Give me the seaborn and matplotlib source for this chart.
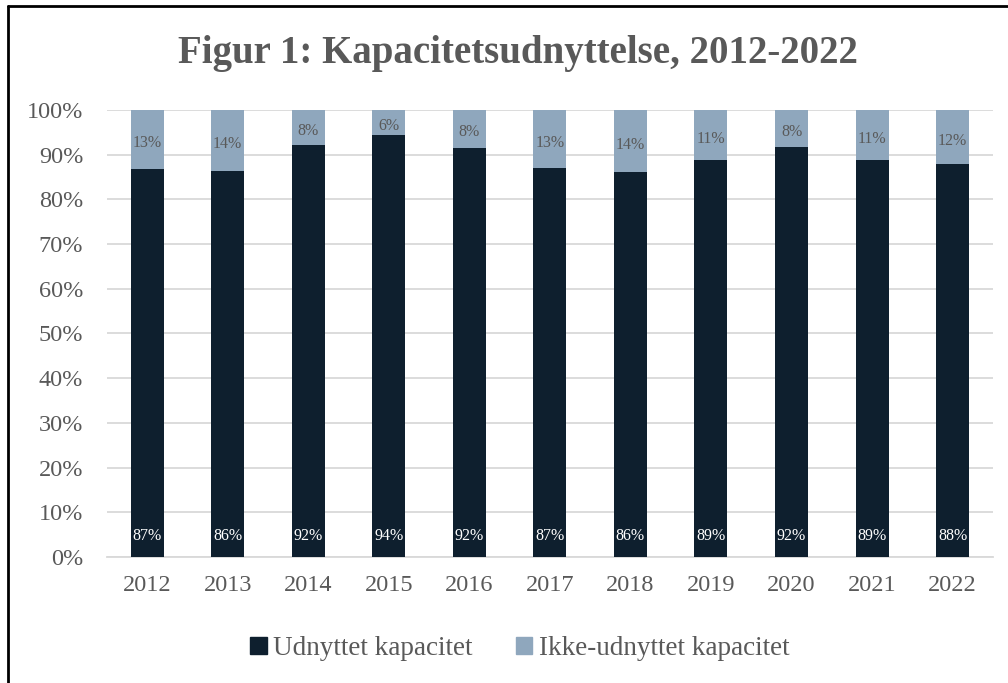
import numpy as np
import pandas as pd
import matplotlib.pyplot as plt
import seaborn as sns
from matplotlib.lines import Line2D
from matplotlib.patches import Patch
from matplotlib.ticker import PercentFormatter

##### data #####
years = ['2012', '2013', '2014', '2015', '2016', '2017', '2018', '2019', '2020', '2021', '2022']
used = [86.8, 86.4, 92.2, 94.4, 91.6, 87.0, 86.1, 88.8, 91.7, 88.8, 87.9]
unused = [13.2, 13.6, 7.8, 5.6, 8.4, 13.0, 13.9, 11.2, 8.3, 11.2, 12.1]
series_names = ['Udnyttet kapacitet', 'Ikke-udnyttet kapacitet']
title = 'Figur 1: Kapacitetsudnyttelse, 2012-2022'

##### style #####
dark = '#0E1F2E'
light = '#8FA7BD'
text_col = '#595959'
grid_col = '#D9D9D9'

sns.set_style('white')
plt.rcParams['font.family'] = ['Liberation Serif', 'DejaVu Serif']

df = pd.DataFrame({'Year': years, 'Used': used, 'Total': np.add(used, unused)})

fig = plt.figure(figsize=(10.08, 6.83), dpi=100)
ax = fig.add_axes([0.106, 0.1845, 0.879, 0.6545])

# stacked bars: total (light) behind, used (dark) in front
sns.barplot(data=df, x='Year', y='Total', color=light, width=0.41, saturation=1, linewidth=0, ax=ax, zorder=2)
sns.barplot(data=df, x='Year', y='Used', color=dark, width=0.41, saturation=1, linewidth=0, ax=ax, zorder=3)

for i, (u, n) in enumerate(zip(used, unused)):
    ax.text(i, 4.6, f'{round(u)}%', ha='center', va='center', color='white', fontsize=11.5, zorder=4)
    ax.text(i, u + n / 2 - 0.8, f'{round(n)}%', ha='center', va='center', color=text_col, fontsize=11.5, zorder=4)

ax.set_ylim(0, 100)
ax.set_xlim(-0.5, len(years) - 0.5)
ax.set_yticks(np.arange(0, 101, 10))
ax.yaxis.set_major_formatter(PercentFormatter(decimals=0))
ax.yaxis.grid(True, color=grid_col, linewidth=1.3, zorder=0)
ax.set_axisbelow(True)
ax.set_xlabel('')
ax.set_ylabel('')

for s in ['top', 'right', 'left']:
    ax.spines[s].set_visible(False)
ax.spines['bottom'].set_color(grid_col)
ax.spines['bottom'].set_linewidth(1.3)

ax.set_xticks(np.arange(-0.5, len(years), 1), minor=True)
ax.tick_params(axis='x', which='minor', length=8, width=1.3, color=grid_col, direction='out')
ax.tick_params(axis='x', which='major', length=0, pad=13, labelsize=17.5, labelcolor=text_col)
ax.tick_params(axis='y', length=0, pad=17, labelsize=17.5, labelcolor=text_col)

fig.text(0.514, 0.922, title, ha='center', va='center', fontsize=28, fontweight='bold', color=text_col)

handles = [Patch(color=dark, label=series_names[0]), Patch(color=light, label=series_names[1])]
fig.legend(handles=handles, loc='center', bbox_to_anchor=(0.516, 0.051), ncol=2, frameon=False,
           fontsize=19.5, labelcolor=text_col, handlelength=0.6, handleheight=0.6,
           handletextpad=0.25, columnspacing=1.6)

# outer frame (left and top edges)
fig.add_artist(Line2D([8 / 1008, 8 / 1008], [0, 1 - 6 / 683], color='black', linewidth=2))
fig.add_artist(Line2D([8 / 1008, 1], [1 - 6 / 683, 1 - 6 / 683], color='black', linewidth=2))

plt.savefig('out.png', dpi=100)
